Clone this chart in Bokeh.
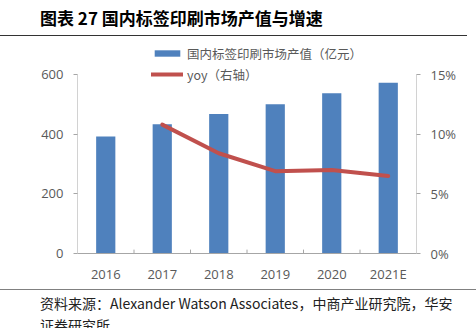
from bokeh.plotting import figure
from bokeh.models import (ColumnDataSource, FactorRange, Range1d, LinearAxis, FixedTicker,
                          Legend, LegendItem, Div, PrintfTickFormatter)
from bokeh.layouts import column
from bokeh.embed import file_html
from bokeh.resources import INLINE

categories = ["2016", "2017", "2018", "2019", "2020", "2021E"]
output_value = [392, 433, 468, 500, 537, 572]
yoy_years = ["2017", "2018", "2019", "2020", "2021E"]
yoy_pct = [10.8, 8.4, 6.9, 7.0, 6.5]
left_ticks = [0, 200, 400, 600]
right_ticks = [0, 5, 10, 15]

title_text = "图表 27 国内标签印刷市场产值与增速"
bar_label = "国内标签印刷市场产值（亿元）"
line_label = "yoy（右轴）"
source_line1 = "资料来源：Alexander Watson Associates，中商产业研究院，华安"
source_line2 = "证券研究所"

BAR = "#4f81bd"
RED = "#c0504d"
AXIS = "#a6a6a6"
TXT = "#595959"
NUM_FONT = "Open Sans"
CJK_FONT = "Noto Sans CJK SC"

# frame extends a bit above the axes' top so the legend can sit there
LEFT_MAX = left_ticks[-1]
RIGHT_MAX = right_ticks[-1]
EXTRA = 213.0 / 179.0  # frame height / axis height in px

title_div = Div(
    text=(f'<div style="width:467px;height:36px;border-bottom:1px solid #333333;'
          f'font-family:\'{CJK_FONT}\';font-weight:bold;font-size:17px;line-height:36px;'
          f'color:#000000;padding-left:40px;box-sizing:border-box;white-space:nowrap;">{title_text}</div>'),
    width=476, height=37, margin=0)

p = figure(width=476, height=252, x_range=FactorRange(*categories, range_padding=0),
           y_range=Range1d(0, LEFT_MAX * EXTRA), output_backend="svg", toolbar_location=None,
           min_border_left=77, min_border_right=60, min_border_top=3, min_border_bottom=36)
p.extra_y_ranges = {"yoy": Range1d(0, RIGHT_MAX * EXTRA)}
p.outline_line_color = None
p.grid.visible = False
p.background_fill_color = "white"
p.border_fill_color = "white"

src = ColumnDataSource(dict(x=categories, y=output_value))
bars = p.vbar(x="x", top="y", width=0.34, source=src, fill_color=BAR, line_color=None)
lsrc = ColumnDataSource(dict(x=yoy_years, y=yoy_pct))
ln = p.line(x="x", y="y", source=lsrc, line_color=RED, line_width=4, y_range_name="yoy",
            line_join="round", line_cap="round")

# vertical axis lines (only up to the top tick)
p.segment(x0=[(categories[0], -0.5)], y0=[0], x1=[(categories[0], -0.5)], y1=[LEFT_MAX],
          line_color=AXIS, line_width=1)
p.segment(x0=[(categories[-1], 0.5)], y0=[0], x1=[(categories[-1], 0.5)], y1=[LEFT_MAX],
          line_color=AXIS, line_width=1)
# category boundary ticks on the x axis
tsrc = ColumnDataSource(dict(x=[(c, 0.5) for c in categories[:-1]]))
p.segment(x0="x", y0=0, x1="x", y1=13, source=tsrc, line_color=AXIS, line_width=1)

def style_axis(ax):
    ax.axis_line_color = AXIS
    ax.major_tick_line_color = AXIS
    ax.minor_tick_line_color = None
    ax.major_label_text_color = TXT
    ax.major_label_text_font = NUM_FONT
    ax.major_label_text_font_size = "13px"

xa = p.xaxis[0]
style_axis(xa)
xa.major_tick_line_color = None
xa.major_label_standoff = 5

ya = p.yaxis[0]
style_axis(ya)
ya.axis_line_color = None
ya.ticker = FixedTicker(ticks=left_ticks)
ya.major_tick_out = 4
ya.major_tick_in = 0
ya.major_label_standoff = 10

ra = LinearAxis(y_range_name="yoy", ticker=FixedTicker(ticks=right_ticks),
                formatter=PrintfTickFormatter(format="%d%%"))
style_axis(ra)
ra.axis_line_color = None
ra.major_tick_out = 4
ra.major_tick_in = 0
ra.major_label_standoff = 10
p.add_layout(ra, "right")

legend = Legend(items=[LegendItem(label=bar_label, renderers=[bars]),
                       LegendItem(label=line_label, renderers=[ln])],
                location=(74, 169), orientation="vertical",
                padding=0, margin=0, spacing=1, border_line_color=None,
                background_fill_alpha=0, glyph_width=32, glyph_height=8,
                label_height=20, label_standoff=4,
                label_text_font=CJK_FONT, label_text_font_size="12.5px",
                label_text_color=TXT)
p.add_layout(legend)

foot_div = Div(
    text=(f'<div style="width:476px;height:39px;border-top:1px solid #808080;box-sizing:border-box;'
          f'font-family:\'{CJK_FONT}\';font-size:14px;line-height:22px;color:#222222;'
          f'padding-left:40px;padding-top:2px;white-space:nowrap;overflow:hidden;">'
          f'{source_line1}<br>{source_line2}</div>'),
    width=476, height=39, margin=0)

layout = column(title_div, p, foot_div, spacing=0)
open("out.html", "w").write(file_html(layout, INLINE))
